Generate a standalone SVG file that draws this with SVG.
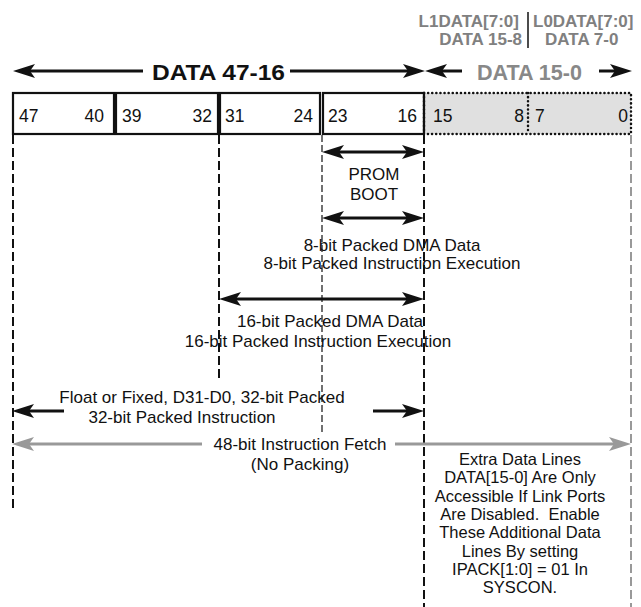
<svg xmlns="http://www.w3.org/2000/svg" width="641" height="607" viewBox="0 0 641 607">
<style>
text{font-family:"Liberation Sans",Arial,sans-serif;fill:#111}
.num{font-size:17.5px}
.lbl{font-size:17px;text-anchor:middle}
.ex{font-size:16.5px;text-anchor:middle}
.gb{font-size:17px;font-weight:bold;fill:#808080}
.big{font-size:22px;font-weight:bold;text-anchor:middle}
.box{fill:#fff;stroke:#111;stroke-width:2.2}
.dot{fill:none;stroke:#111;stroke-width:2.5;stroke-dasharray:0.1 4;stroke-linecap:round}
.vd{stroke:#111;stroke-width:2;stroke-dasharray:9 4;fill:none}
.vt{stroke:#111;stroke-width:1.2;stroke-dasharray:7 3;fill:none}
.vg{stroke:#999;stroke-width:2;stroke-dasharray:9 4;fill:none}
.ar{stroke:#111;stroke-width:3;fill:none}
.ag{stroke:#999;stroke-width:3;fill:none}
</style>
<defs>
<marker id="ah" viewBox="0 0 22 14" refX="5" refY="7" markerWidth="22" markerHeight="14" markerUnits="userSpaceOnUse" orient="auto-start-reverse"><path d="M0,0 L22,7 L0,14 L5,7 z" fill="#111"/></marker>
<marker id="ahg" viewBox="0 0 22 14" refX="5" refY="7" markerWidth="22" markerHeight="14" markerUnits="userSpaceOnUse" orient="auto-start-reverse"><path d="M0,0 L22,7 L0,14 L5,7 z" fill="#999"/></marker>
</defs>

<g id="header">
<text class="gb" x="519" y="27" text-anchor="end">L1DATA[7:0]</text>
<text class="gb" x="522" y="45" text-anchor="end">DATA 15-8</text>
<text class="gb" x="533" y="27">L0DATA[7:0]</text>
<text class="gb" x="545" y="45">DATA 7-0</text>
<line x1="528" y1="12" x2="528" y2="48" stroke="#111" stroke-width="1.5"/>
<text class="big" x="218.5" y="80" textLength="133" lengthAdjust="spacingAndGlyphs">DATA 47-16</text>
<text class="big" x="529.5" y="80" style="fill:#888" textLength="105" lengthAdjust="spacingAndGlyphs">DATA 15-0</text>
</g>

<g id="register">
<rect class="box" x="13" y="93" width="101" height="41"/>
<rect class="box" x="116" y="93" width="102" height="41"/>
<rect class="box" x="220" y="93" width="100" height="41"/>
<rect class="box" x="323" y="93" width="101" height="41"/>
<rect x="424" y="93" width="207" height="41" fill="#e0e0e0"/>
<path class="dot" d="M424,93 H631 V134 H424 M528,93 V134"/>
<line x1="424" y1="93" x2="424" y2="134" stroke="#111" stroke-width="2.2"/>
<path class="dot" d="M424,93 V134"/>
<text class="num" x="19" y="122">47</text>
<text class="num" x="104" y="122" text-anchor="end">40</text>
<text class="num" x="122" y="122">39</text>
<text class="num" x="212" y="122" text-anchor="end">32</text>
<text class="num" x="225" y="122">31</text>
<text class="num" x="313" y="122" text-anchor="end">24</text>
<text class="num" x="328" y="122">23</text>
<text class="num" x="417" y="122" text-anchor="end">16</text>
<text class="num" x="433" y="122">15</text>
<text class="num" x="524" y="122" text-anchor="end">8</text>
<text class="num" x="535" y="122">7</text>
<text class="num" x="628" y="122" text-anchor="end">0</text>
</g>

<g id="connectors">
<line class="vd" x1="13" y1="135" x2="13" y2="510"/>
<line class="vd" x1="219" y1="135" x2="219" y2="380"/>
<line class="vt" x1="322" y1="135" x2="322" y2="433"/>
<line class="vd" x1="424" y1="135" x2="424" y2="607"/>
<line class="vg" x1="631" y1="135" x2="631" y2="607"/>

<line class="ar" x1="30" y1="71" x2="143" y2="71" marker-start="url(#ah)"/>
<line class="ar" x1="290" y1="71" x2="408" y2="71" marker-end="url(#ah)"/>
<line class="ar" x1="442" y1="71" x2="462" y2="71" marker-start="url(#ah)"/>
<line class="ar" x1="599" y1="71" x2="615" y2="71" marker-end="url(#ah)"/>

<line class="ar" x1="339" y1="152" x2="407" y2="152" marker-start="url(#ah)" marker-end="url(#ah)"/>
<line class="ar" x1="339" y1="218" x2="407" y2="218" marker-start="url(#ah)" marker-end="url(#ah)"/>
<line class="ar" x1="236" y1="299" x2="407" y2="299" marker-start="url(#ah)" marker-end="url(#ah)"/>
<line class="ar" x1="29" y1="411" x2="64" y2="411" marker-start="url(#ah)"/>
<line class="ar" x1="373" y1="411" x2="407" y2="411" marker-end="url(#ah)"/>
<line class="ag" x1="29" y1="444" x2="202" y2="444" marker-start="url(#ahg)"/>
<line class="ag" x1="395" y1="444" x2="614" y2="444" marker-end="url(#ahg)"/>
</g>

<g id="labels">
<text class="lbl" x="374" y="180">PROM</text>
<text class="lbl" x="374" y="200">BOOT</text>
<text class="lbl" x="392" y="251">8-bit Packed DMA Data</text>
<text class="lbl" x="392" y="269">8-bit Packed Instruction Execution</text>
<text class="lbl" x="330" y="327">16-bit Packed DMA Data</text>
<text class="lbl" x="318" y="347">16-bit Packed Instruction Execution</text>
<text class="lbl" x="202" y="403">Float or Fixed, D31-D0, 32-bit Packed</text>
<text class="lbl" x="182" y="423">32-bit Packed Instruction</text>
<text class="lbl" x="300" y="450">48-bit Instruction Fetch</text>
<text class="lbl" x="300" y="470">(No Packing)</text>
</g>

<g id="note">
<text class="ex" x="520" y="465">Extra Data Lines</text>
<text class="ex" x="520" y="483">DATA[15-0] Are Only</text>
<text class="ex" x="520" y="502">Accessible If Link Ports</text>
<text class="ex" x="520" y="520">Are Disabled.&#160; Enable</text>
<text class="ex" x="520" y="538">These Additional Data</text>
<text class="ex" x="520" y="557">Lines By setting</text>
<text class="ex" x="520" y="575">IPACK[1:0] = 01 In</text>
<text class="ex" x="520" y="593">SYSCON.</text>
</g>
</svg>
